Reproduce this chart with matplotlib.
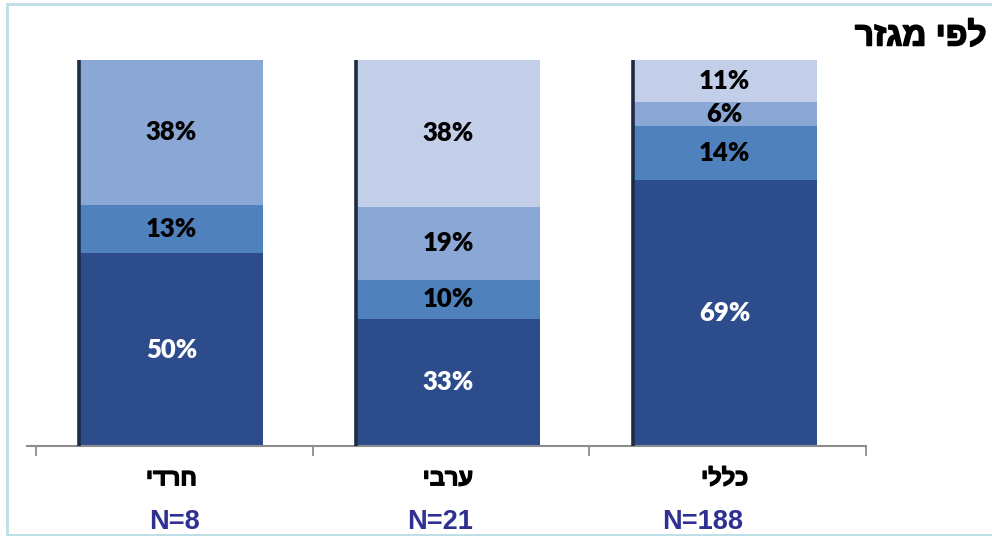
import matplotlib.pyplot as plt
import matplotlib.patches as mpatches
import matplotlib.patheffects as pe
import numpy as np

# categories as read (Hebrew stored logically, reversed for display since matplotlib has no bidi)
categories = ["חרדי", "ערבי", "כללי"]
n_labels = ["N=8", "N=21", "N=188"]
title = "לפי מגזר"

# stacked shares, bottom to top (percent)
seg_dark = [50, 33, 69]
seg_mid = [12.5, 10, 14]
seg_light = [37.5, 19, 6]
seg_pale = [0, 38, 11]

colors = ["#2C4C8C", "#4F81BD", "#8AA7D6", "#C3CEE8"]
text_colors = ["white", "black", "black", "black"]


def rtl(s):
    return s[::-1]


fig = plt.figure(figsize=(9.92, 5.36), dpi=100)
ax = fig.add_axes([27 / 992, 90 / 536, 839 / 992, 386 / 536])

x = np.arange(len(categories)) - 0.011
width = 0.665
bottom = np.zeros(len(categories))
for vals, col, tcol in zip([seg_dark, seg_mid, seg_light, seg_pale], colors, text_colors):
    vals = np.array(vals, dtype=float)
    ax.bar(x, vals, width=width, bottom=bottom, color=col, edgecolor="none", zorder=2)
    for xi, b, v in zip(x, bottom, vals):
        if v > 0:
            ax.text(xi, b + v / 2, f"{int(v + 0.5)}%", ha="center", va="center",
                    fontsize=18.5, fontweight="heavy", color=tcol, family="Lato", zorder=4)
    bottom += vals

# dark left edge on each bar
for xi in x:
    ax.plot([xi - width / 2, xi - width / 2], [0, 100], color="#1E2B45", lw=2.6,
            solid_capstyle="butt", zorder=3)

ax.set_xlim(-0.533, 2.5)
ax.set_ylim(0, 100)
for s in ["top", "right", "left"]:
    ax.spines[s].set_visible(False)
ax.spines["bottom"].set_color("#8C8C8C")
ax.spines["bottom"].set_linewidth(1.5)
ax.set_yticks([])
ax.set_xticks([-0.5, 0.5, 1.5, 2.5])
ax.set_xticklabels([])
ax.tick_params(axis="x", direction="out", length=7, width=1.3, color="#8C8C8C")

# Hebrew glyphs come out light, thicken them a bit
thick = [pe.withStroke(linewidth=0.9, foreground="black")]
for xi, cat in zip(x, categories):
    ax.text(xi, -8.5, rtl(cat), ha="center", va="center", fontsize=17,
            fontweight="bold", family="Liberation Sans", clip_on=False, path_effects=thick)

n_x = [0.0, 0.96, 1.91]
for xi, lab in zip(n_x, n_labels):
    ax.text(xi, -19.6, lab, ha="center", va="center", fontsize=19.5, fontweight="bold",
            color="#2E3192", family="Liberation Sans", clip_on=False)

fig.text(987 / 992, 1 - 37 / 536, rtl(title), ha="right", va="center", fontsize=24,
         fontweight="bold", family="Liberation Sans",
         path_effects=[pe.withStroke(linewidth=1.1, foreground="black")])

# light frame around the picture
fig.patches.append(mpatches.Rectangle((7 / 992, 1 / 536), 1.2, 531 / 536, transform=fig.transFigure,
                                      fill=False, edgecolor="#BBDFE6", lw=2))

fig.savefig("out.png", dpi=100)
